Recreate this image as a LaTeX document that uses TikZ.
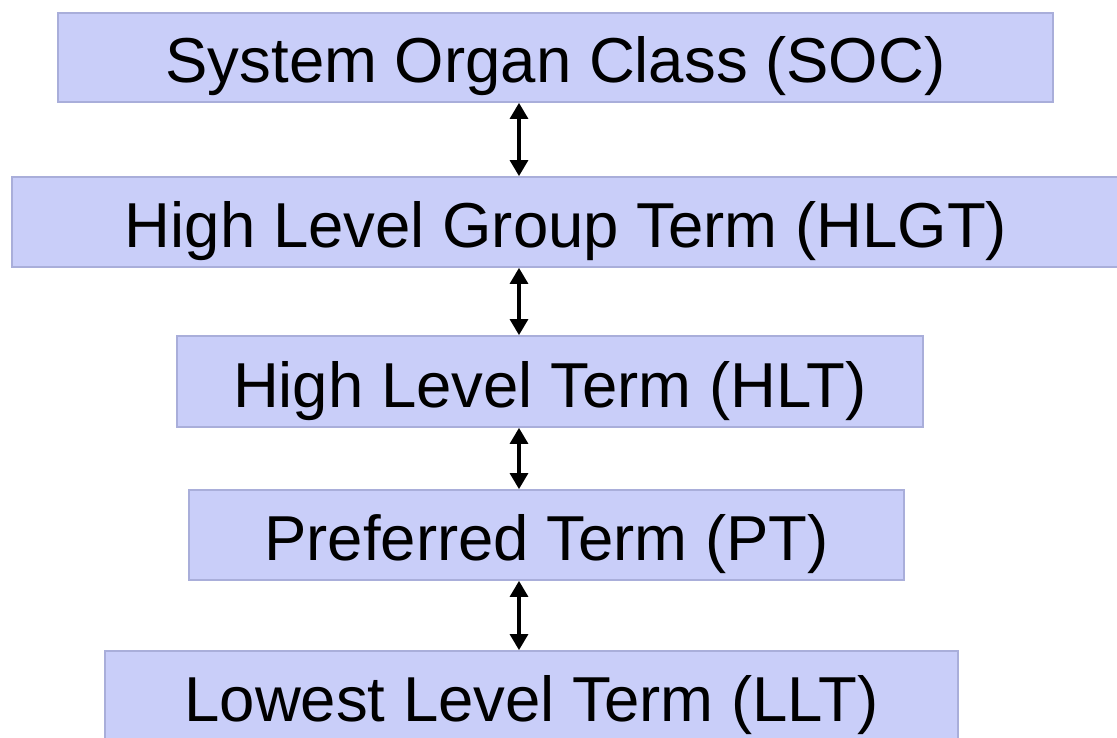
\documentclass[tikz,border=0pt]{standalone}
\usepackage{fontspec}
\setmainfont{Liberation Sans}
\usetikzlibrary{arrows.meta}
\definecolor{boxfill}{HTML}{C9CEF9}
\definecolor{boxline}{HTML}{A9AEDA}
\tikzset{
  levelbox/.style={draw=boxline, fill=boxfill, line width=1.8pt, inner sep=0pt,
    text height=51pt, text depth=0pt,
    font=\fontsize{63.5}{70}\selectfont},
  link/.style={line width=3.2pt, {Triangle[width=18pt,length=16pt]}-{Triangle[width=18pt,length=16pt]}}
}
\begin{document}
\begin{tikzpicture}[x=1pt,y=-1pt]
\clip (0,0) rectangle (1117,738);
\fill[white] (0,0) rectangle (1117,738);
\node[levelbox, minimum width=995pt, minimum height=89pt] (b1) at (555.5,57.5) {System Organ Class (SOC)};
\node[levelbox, minimum width=1108pt, minimum height=90pt] (b2) at (566,222) {High Level Group Term (HLGT)};
\node[levelbox, minimum width=746pt, minimum height=91pt] (b3) at (550,381.5) {High Level Term (HLT)};
\node[levelbox, minimum width=715pt, minimum height=90pt] (b4) at (546.5,535) {Preferred Term (PT)};
\node[levelbox, minimum width=853pt, minimum height=90pt] (b5) at (531.5,696) {Lowest Level Term (LLT)};
\coordinate (ax) at (519,0);
\draw[link] (b1.south -| ax) -- (b2.north -| ax);
\draw[link] (b2.south -| ax) -- (b3.north -| ax);
\draw[link] (b3.south -| ax) -- (b4.north -| ax);
\draw[link] (b4.south -| ax) -- (b5.north -| ax);
\end{tikzpicture}
\end{document}
